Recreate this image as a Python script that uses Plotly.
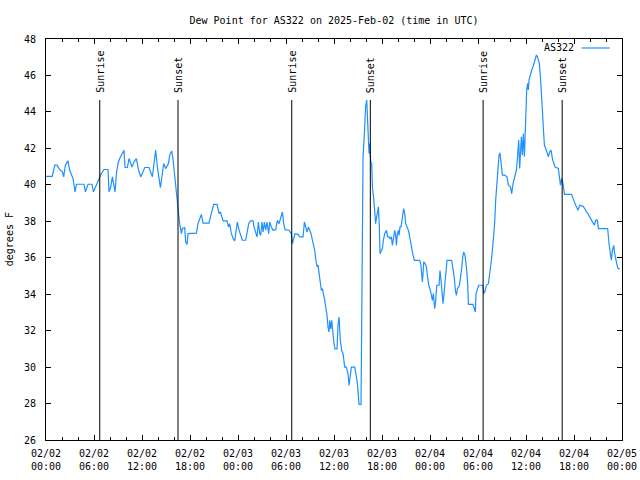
import plotly.graph_objects as go
import pandas as pd

# Hours since 2025-02-02 00:00 UTC and dew point (degrees F)
hours = [
    0.00, 0.79, 1.09, 1.38, 1.71, 2.05, 2.21, 2.42, 2.75, 2.96, 3.21, 3.38, 3.63, 3.80, 4.75, 4.92,
    5.25, 5.75, 5.92, 6.30, 6.63, 6.92, 7.25, 7.75, 7.88, 8.09, 8.30, 8.46, 8.63, 8.80, 9.00, 9.21,
    9.50, 9.75, 9.88, 10.17, 10.38, 10.55, 10.75, 11.00, 11.30, 11.55, 11.84, 12.13, 12.34, 12.88,
    13.09, 13.30, 13.50, 13.71, 13.92, 14.13, 14.30, 14.55, 14.71, 14.96, 15.30, 15.46, 15.71, 15.88,
    16.09, 16.30, 16.42, 16.55, 16.71, 16.92, 17.05, 17.34, 17.46, 17.63, 17.75, 18.80, 19.00, 19.21,
    19.42, 19.63, 20.38, 20.55, 20.80, 20.96, 21.38, 21.63, 21.80, 21.92, 22.13, 22.63, 22.80, 22.96,
    23.17, 23.38, 23.59, 23.80, 23.92, 24.13, 24.30, 24.55, 24.96, 25.13, 25.34, 25.55, 25.88, 26.00,
    26.21, 26.38, 26.55, 26.71, 26.84, 27.00, 27.13, 27.30, 27.46, 27.63, 27.84, 27.96, 28.17, 28.38,
    28.71, 28.92, 29.13, 29.34, 29.55, 29.71, 29.88, 30.38, 30.67, 30.80, 30.96, 31.13, 31.50, 31.71,
    32.13, 32.30, 32.46, 32.63, 32.80, 32.96, 33.13, 33.30, 33.46, 33.59, 33.71, 33.88, 34.00, 34.13,
    34.30, 34.42, 34.55, 34.71, 34.84, 34.96, 35.13, 35.25, 35.38, 35.46, 35.59, 35.71, 35.84, 36.00,
    36.13, 36.38, 36.50, 36.63, 36.79, 36.96, 37.13, 37.34, 37.55, 37.75, 37.88, 38.05, 38.17, 38.59,
    38.71, 38.88, 39.00, 39.13, 39.38, 39.42, 39.54, 39.63, 39.80, 39.88, 39.95, 40.09, 40.17, 40.25,
    40.38, 40.46, 40.59, 40.71, 40.80, 40.96, 41.09, 41.21, 41.30, 41.42, 41.55, 41.67, 41.75, 41.92,
    42.05, 42.17, 42.34, 42.55, 42.71, 42.88, 43.00, 43.17, 43.30, 43.46, 43.59, 43.71, 43.80, 43.92,
    44.05, 44.13, 44.25, 44.38, 44.55, 44.71, 44.84, 44.96, 45.13, 45.30, 45.46, 45.59, 45.71, 45.88,
    46.05, 46.71, 46.84, 46.96, 47.05, 47.13, 47.21, 47.38, 47.55, 47.67, 47.84, 48.05, 48.17, 48.30,
    48.42, 48.59, 48.71, 48.84, 49.13, 49.25, 49.38, 49.50, 49.63, 49.75, 49.88, 50.05, 50.13, 50.71,
    50.88, 51.05, 51.17, 51.30, 51.42, 51.59, 51.71, 51.84, 51.96, 52.09, 52.21, 52.38, 52.46, 52.59,
    52.71, 52.80, 53.38, 53.55, 53.67, 53.75, 53.92, 54.09, 54.63, 54.71, 54.88, 55.05, 55.30, 55.42,
    55.54, 55.67, 55.80, 55.96, 56.09, 56.21, 56.38, 56.63, 56.75, 56.88, 57.05, 57.34, 57.63, 57.80,
    58.05, 58.21, 58.38, 58.59, 58.80, 58.96, 59.09, 59.21, 59.30, 59.42, 59.55, 59.67, 59.80, 59.88,
    59.96, 60.09, 60.21, 60.30, 60.38, 60.55, 60.71, 60.88, 61.05, 61.17, 61.30, 61.42, 61.55, 61.67,
    61.80, 61.92, 62.05, 62.17, 62.30, 62.46, 62.63, 62.80, 62.96, 63.13, 63.30, 63.46, 63.63, 64.05,
    64.21, 64.30, 64.46, 64.63, 64.80, 65.71, 65.88, 66.09, 66.30, 66.50, 66.71, 67.13, 67.34, 67.55,
    67.75, 67.96, 68.17, 68.38, 68.55, 68.71, 68.92, 69.05, 70.21, 70.38, 70.55, 70.67, 70.80, 70.96,
    71.09, 71.21, 71.34, 71.50, 71.71,
]
dewpoint = [
    40.46, 40.46, 41.08, 41.08, 40.84, 40.71, 40.44, 41.08, 41.31, 40.80, 40.53, 40.34, 39.61, 40.03, 40.03, 39.61,
    40.03, 40.03, 39.61, 40.03, 40.34, 40.62, 40.84, 40.84, 39.61, 39.88, 40.44, 40.07, 39.61, 40.62, 41.17, 41.44,
    41.68, 41.90, 40.95, 40.95, 41.44, 41.17, 40.98, 41.26, 41.44, 40.84, 40.44, 40.71, 40.95, 40.95,
    40.71, 40.44, 41.17, 41.90, 40.98, 40.25, 39.85, 40.62, 41.17, 40.89, 41.17, 41.63, 41.86, 41.39,
    40.34, 39.61, 39.06, 38.51, 37.87, 37.32, 37.60, 37.65, 36.86, 36.73, 37.32, 37.35, 37.87, 38.20,
    38.38, 37.90, 37.90, 38.23, 38.70, 38.93, 38.93, 38.42, 38.51, 38.33, 38.02, 38.02, 37.69, 37.87,
    37.32, 37.05, 36.92, 37.60, 37.96, 37.51, 37.23, 36.96, 36.96, 37.32, 37.87, 38.02, 38.02, 37.69,
    37.32, 37.14, 37.96, 37.32, 37.23, 37.96, 37.41, 37.96, 37.51, 37.96, 37.32, 37.96, 37.69, 37.51,
    37.54, 38.05, 37.87, 38.15, 38.51, 37.87, 37.54, 37.51, 37.32, 36.77, 37.05, 37.32, 37.28, 37.14,
    37.14, 37.96, 37.69, 37.41, 37.69, 37.54, 37.32, 36.96, 36.63, 36.41, 35.95, 35.49, 35.60, 35.21,
    34.67, 34.21, 34.30, 34.03, 33.66, 33.30, 32.84, 32.19, 31.92, 32.56, 32.10, 32.56, 31.74, 31.28,
    31.00, 31.00, 32.29, 32.75, 31.47, 30.91, 30.73, 30.00, 30.00, 29.63, 28.99, 29.63, 30.00, 30.00,
    29.72, 29.26, 28.71, 27.95, 27.95, 31.19, 37.69, 41.53, 42.82, 43.73, 44.28, 44.65, 43.91, 43.36,
    41.72, 42.27, 41.26, 41.17, 39.89, 39.25, 38.60, 37.87, 38.15, 38.42, 38.79, 37.69, 36.22, 36.40,
    36.50, 36.96, 37.32, 37.50, 37.14, 37.14, 37.05, 37.14, 36.68, 37.14, 37.50, 37.23, 36.68, 37.32,
    37.50, 37.23, 37.69, 37.69, 38.15, 38.70, 38.42, 37.87, 37.69, 37.50, 37.14, 36.77, 36.40, 36.13,
    35.86, 35.86, 35.68, 35.17, 34.67, 35.13, 35.77, 35.68, 35.50, 35.04, 34.49, 34.21, 33.93, 33.66,
    34.03, 33.20, 33.66, 34.49, 34.49, 35.30, 34.76, 34.03, 33.48, 34.03, 34.67, 35.30, 35.86, 35.86,
    35.40, 34.85, 34.21, 33.93, 34.30, 34.40, 34.58, 34.94, 35.40, 36.04, 36.31, 36.13, 35.86, 35.30,
    34.58, 33.44, 33.44, 33.20, 33.02, 34.03, 34.30, 34.49, 34.49, 34.03, 34.17, 34.49, 34.58, 34.94,
    35.31, 35.86, 36.40, 37.05, 37.96, 39.15, 40.16, 41.63, 41.75, 41.17, 40.53, 40.53, 40.44, 39.98,
    39.89, 39.52, 40.07, 40.44, 40.80, 41.63, 42.45, 40.90, 42.08, 42.63, 41.63, 42.82, 41.54, 42.63,
    43.55, 45.20, 45.57, 45.20, 45.75, 46.11, 46.30, 46.48, 46.76, 46.94, 47.12, 47.03, 46.85, 46.66,
    45.93, 44.55, 44.10, 43.09, 42.18, 41.99, 41.72, 41.54, 41.81, 41.90, 41.44, 41.26, 40.98, 40.90,
    40.44, 39.98, 40.35, 40.07, 39.48, 39.48, 39.24, 38.97, 38.79, 38.60, 38.88, 38.82, 38.70, 38.51,
    38.42, 38.24, 38.06, 37.87, 37.78, 38.06, 38.06, 37.60, 37.60, 36.77, 36.22, 35.86, 36.40, 36.68,
    36.22, 35.86, 35.68, 35.40, 35.40,
]
sunrise_hours = [6.72, 30.72, 54.64]
sunset_hours = [16.50, 40.54, 64.52]
series_name = "AS322"
title_text = "Dew Point for AS322 on 2025-Feb-02 (time in UTC)"
y_label = "degrees F"

base = pd.Timestamp("2025-02-02 00:00")
times = [base + pd.Timedelta(hours=h) for h in hours]
sunrise_t = [base + pd.Timedelta(hours=h) for h in sunrise_hours]
sunset_t = [base + pd.Timedelta(hours=h) for h in sunset_hours]

FONT = "DejaVu Sans Mono"
LINE_COLOR = "#1E90FF"

fig = go.Figure()
fig.add_trace(go.Scatter(x=times, y=dewpoint, mode="lines", name=series_name,
                         line=dict(color=LINE_COLOR, width=1.2), showlegend=False))

for ts, label in [(t, "Sunrise") for t in sunrise_t] + [(t, "Sunset") for t in sunset_t]:
    fig.add_shape(type="line", xref="x", yref="paper", x0=ts, x1=ts, y0=0, y1=0.848,
                  line=dict(color="black", width=1))
    fig.add_annotation(x=ts, xref="x", y=0.868, yref="paper", text=label, textangle=-90,
                       showarrow=False, xanchor="center", yanchor="bottom", xshift=1, yshift=-3,
                       font=dict(family=FONT, size=10, color="black"))

# legend key (gnuplot style: text then sample)
fig.add_annotation(x=0.921, y=0.9776, xref="paper", yref="paper", text=series_name,
                   showarrow=False, xanchor="right", yanchor="middle",
                   font=dict(family=FONT, size=10, color="black"))
fig.add_shape(type="line", xref="paper", yref="paper", x0=0.930, x1=0.9786, y0=0.9776, y1=0.9776,
              line=dict(color=LINE_COLOR, width=1.2))

# y-axis label
fig.add_annotation(x=-0.063, y=0.5, xref="paper", yref="paper", text=y_label, textangle=-90,
                   showarrow=False, xanchor="center", yanchor="middle",
                   font=dict(family=FONT, size=10, color="black"))

H = 3600 * 1000
fig.update_layout(
    width=640, height=480,
    margin=dict(l=46, r=18, t=39, b=40, autoexpand=False),
    paper_bgcolor="white", plot_bgcolor="white",
    font=dict(family=FONT, size=10, color="black"),
    title=dict(text=title_text, x=0.5, xref="paper", y=1 - 20 / 480, yanchor="middle",
               font=dict(family=FONT, size=10, color="black")),
    xaxis=dict(type="date", range=[base, base + pd.Timedelta(hours=72)], automargin=False,
               tick0=base, dtick=6 * H, tickformat="%m/%d<br>%H:%M",
               ticks="inside", ticklen=5, tickcolor="black", tickwidth=1, ticklabelstandoff=4,
               minor=dict(dtick=2 * H, ticks="inside", ticklen=3, tickcolor="black", showgrid=False),
               showline=True, linecolor="black", linewidth=1, mirror="ticks",
               showgrid=False, zeroline=False,
               tickfont=dict(family=FONT, size=10, color="black")),
    yaxis=dict(range=[26, 48], dtick=2, tick0=26, automargin=False,
               ticks="inside", ticklen=5, tickcolor="black", tickwidth=1, ticklabelstandoff=7,
               showline=True, linecolor="black", linewidth=1, mirror="ticks",
               showgrid=False, zeroline=False,
               tickfont=dict(family=FONT, size=10, color="black")),
)

fig.write_html("out.html")
